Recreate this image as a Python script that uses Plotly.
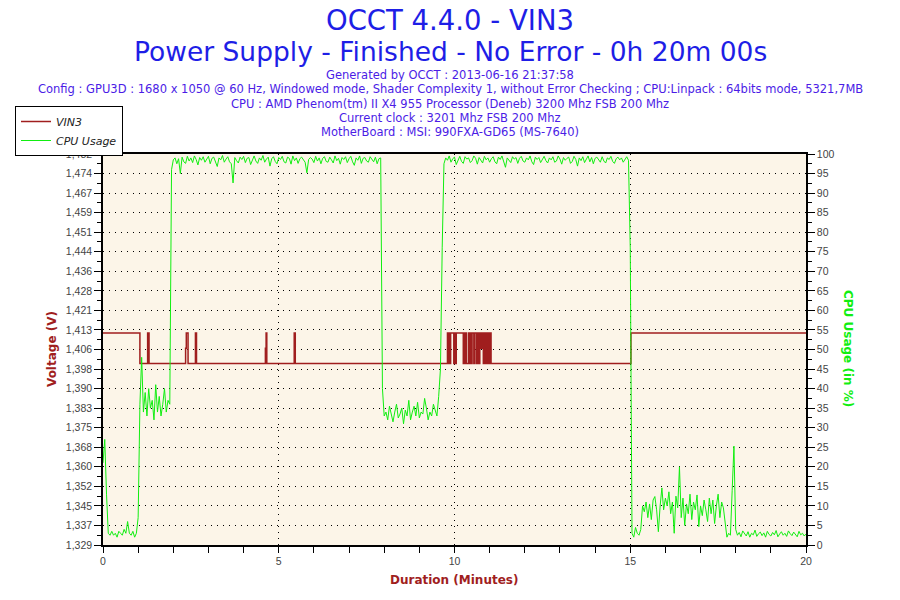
import numpy as np
import plotly.graph_objects as go

# canvas and plot area (pixels)
W, H = 900, 600
L, R, T, B = 103, 806, 154, 545

# ---------------- data ----------------
SAMPLE_STEP = 0.05  # minutes between CPU samples

# CPU usage (%), segments with their start time (minutes)
cpu_idle_a = [21, 27, 13, 3, 2.5, 3.5, 2.5, 3, 2, 3.5, 3, 2.5, 4, 3, 6, 3, 2.5, 3.5, 2, 3, 7]
cpu_half_a = [36, 48, 34, 39, 33, 40, 35, 37, 32, 41, 34, 38, 33, 36, 40, 34, 37, 36]
cpu_full_a = [
    96, 98.5, 99, 97.5, 98.8, 95, 99.2, 98, 97.6, 99.4,
    98.2, 99, 97.8, 99.5, 98.6, 97.2, 99.1, 98.4, 99.3, 97.9,
    98.8, 99.4, 97.5, 98.9, 99.2, 98.1, 96.8, 99, 98.5, 99.6,
    97.9, 98.7, 99.3, 98, 97.5, 92.6, 99.1, 98.3, 97.7, 99.2,
    98.6, 99.4, 97.8, 98.9, 99.1, 97.3, 98.5, 99.5, 98.2, 97.6,
    99, 98.4, 99.6, 97.9, 98.7, 99.2, 96.9, 98.8, 99.3, 98.1,
    97.5, 99.1, 98.6, 99.4, 98, 97.7, 99.2, 98.9, 97.4, 99.5,
    98.3, 99, 97.6, 98.8, 99.2, 98.4, 97.9, 95.2, 98.6, 99.1,
    98.7, 97.8, 99.4, 98.2, 99, 97.5, 98.9, 99.3, 98.1, 97.9,
    99.2, 98.5, 97.7, 99.5, 98.3, 98.9, 97.4, 99.1, 98.6, 99.3,
    97.8, 98.8, 99.4, 98, 97.1, 99, 98.4, 99.5, 97.6, 98.9,
    99.1, 98.2, 97.9, 99.3, 98.7, 98, 99.2, 97.5, 98.8, 99,
]
cpu_half_b = [
    40, 33,
    34, 32, 35.5, 33, 31.5, 34, 36, 32.5, 33.5, 35, 31, 34.5, 33, 37, 32,
    34, 35.5, 33, 36.5, 32.5, 34, 33.5, 37.5, 35, 32, 34, 33, 36, 34.5, 33,
    38, 45, 76,
]
cpu_full_b = [
    97.5, 99, 98.4, 99.5, 97.9, 98.8, 99.2, 97.3, 98.6, 99.4,
    98.1, 97.6, 99.3, 98.7, 99, 97.8, 98.3, 99.5, 98.9, 97.4,
    99.1, 98.2, 97.7, 99.4, 98.5, 99, 97.9, 98.8, 99.3, 98,
    97.5, 99.2, 98.6, 99.5, 98.1, 96.6, 99, 98.4, 97.8, 99.3,
    98.7, 99.1, 97.6, 98.9, 99.4, 98.2, 97.9, 99, 98.5, 99.5,
    98, 97.3, 99.2, 98.6, 99.1, 97.8, 98.8, 99.4, 98.3, 97.7,
    99, 98.5, 99.3, 97.9, 98.2, 99.5, 98.7, 97.4, 99.1, 98.4,
    98.9, 99.2, 97.6, 98.1, 99.4, 98.6, 96.9, 99, 98.3, 99.3,
    97.8, 98.7, 99.5, 98, 99.1, 97.5, 98.9, 99.2, 98.4, 97.9,
    99.3, 98.2, 97.7, 99, 98.6, 99.4, 98.1, 97.6, 98.8, 99.2,
    98.5, 99, 97.9, 98.7, 99.3, 98.4,
]
cpu_light = [
    76, 3, 2, 4.5, 3, 2.5, 4,
    10, 8.5, 11, 7, 10.5, 6.5, 11.5, 12.4,
    9, 3.4, 10, 14.6, 9, 12, 10,
    13.6, 8, 11, 3, 12.5, 9.5, 20, 7,
    12, 5, 10.5, 8, 13, 6.5, 11, 9, 12.8, 4.7, 10, 7.5, 11.5, 9, 6, 12,
    8, 11.5, 5.5, 10, 13, 7, 11, 9.5, 6,
]
cpu_idle_b = [
    2, 3, 2.5, 14, 25.3, 4,
    2.5, 3.2, 2.1, 3.6, 2.8, 2.3, 3.4, 2, 3, 2.6, 3.8, 2.2, 2.9, 3.3, 2.4,
    3.1, 2, 3.5, 2.7, 2.3, 3.2, 2.6, 3.7, 2.1, 2.8, 3.4, 2.5, 3, 2.2, 3.6,
    2.9, 2.4, 3.3, 2.7, 2.1, 3.5, 2.6, 3, 2.3, 2.8,
]
cpu_segments = [
    (0.00, cpu_idle_a),
    (1.05, cpu_half_a),
    (1.95, cpu_full_a),
    (7.95, cpu_half_b),
    (9.70, cpu_full_b),
    (15.00, cpu_light),
    (17.75, cpu_idle_b),
]

# VIN3 (V), change points of the step line
vin_time = [0.00, 1.05, 1.27, 1.29, 1.30, 1.31, 2.35, 2.37, 2.42, 2.63, 2.66,
            4.62, 4.64, 4.66, 5.44, 5.47,
            9.80, 9.84, 9.85, 9.88, 9.89, 9.98, 10.00, 10.02, 10.05, 10.25,
            10.28, 10.29, 10.33, 10.34, 10.40, 10.41, 10.45, 10.47, 10.50,
            10.55, 10.57, 10.62, 10.64, 10.66, 10.69, 10.70, 10.72, 10.76,
            10.78, 10.82, 10.84, 10.88, 10.90, 10.93, 10.95, 10.98, 11.00,
            11.04, 15.02, 20.00]
vin_value = [1.412, 1.400, 1.412, 1.400, 1.412, 1.400, 1.406, 1.412, 1.400, 1.412, 1.400,
             1.406, 1.412, 1.400, 1.412, 1.400,
             1.412, 1.400, 1.412, 1.400, 1.412, 1.400, 1.412, 1.400, 1.412, 1.400,
             1.412, 1.400, 1.412, 1.400, 1.412, 1.400, 1.412, 1.400, 1.412,
             1.400, 1.412, 1.400, 1.412, 1.400, 1.412, 1.400, 1.412, 1.406,
             1.412, 1.400, 1.412, 1.400, 1.412, 1.400, 1.412, 1.400, 1.412,
             1.400, 1.412, 1.412]

# axis ticks
volt_ticktext = ["1,329", "1,337", "1,345", "1,352", "1,360", "1,368", "1,375",
                 "1,383", "1,390", "1,398", "1,406", "1,413", "1,421", "1,428",
                 "1,436", "1,444", "1,451", "1,459", "1,467", "1,474", "1,482"]
volt_min, volt_max = 1.329, 1.482

title_lines = ["OCCT 4.4.0 - VIN3",
               "Power Supply - Finished - No Error - 0h 20m 00s"]
info_lines = [
    "Generated by OCCT : 2013-06-16 21:37:58",
    "Config : GPU3D : 1680 x 1050 @ 60 Hz, Windowed mode, Shader Complexity 1, "
    "without Error Checking ; CPU:Linpack : 64bits mode, 5321,7MB",
    "CPU : AMD Phenom(tm) II X4 955 Processor (Deneb) 3200 Mhz FSB 200 Mhz",
    "Current clock : 3201 Mhz FSB 200 Mhz",
    "MotherBoard : MSI: 990FXA-GD65 (MS-7640)",
]

# ---------------- build ----------------
cpu_t, cpu_v = [], []
for start, vals in cpu_segments:
    cpu_t.extend(start + np.arange(len(vals)) * SAMPLE_STEP)
    cpu_v.extend(vals)

volt_ticks = np.linspace(volt_min, volt_max, len(volt_ticktext))


def px(x):
    return (x - L) / (R - L)


def py(y):
    return (B - y) / (B - T)


def label(text, x, y, size, color, angle=0):
    return dict(text=text, x=px(x), y=py(y), xref="paper", yref="paper",
                showarrow=False, xanchor="center", yanchor="middle", textangle=angle,
                font=dict(family="DejaVu Sans", size=size, color=color))


RED = "#A01E1E"
GREEN = "#11EE11"
TICK_FONT = dict(family="Liberation Sans", size=10.5, color="#444444")

fig = go.Figure()
fig.add_trace(go.Scatter(x=vin_time, y=vin_value, mode="lines", name="VIN3",
                         line=dict(color=RED, width=1.5, shape="hv")))
fig.add_trace(go.Scatter(x=cpu_t, y=cpu_v, mode="lines", name="CPU Usage",
                         yaxis="y2", line=dict(color=GREEN, width=1)))

annotations = []
for i, (txt, size) in enumerate(zip(title_lines, [27.5, 26.5])):
    annotations.append(label(txt, 450, 20 + 31 * i, size, "#1E1EE6"))
for i, txt in enumerate(info_lines):
    annotations.append(label(txt, 450, 75 + 14.3 * i, 11.5, "#4B1CE6"))
annotations.append(label("<b>Voltage (V)</b>", 52, 349, 12, RED, -90))
annotations.append(label("<b>CPU Usage (in %)</b>", 848, 349, 12, GREEN, 90))
annotations.append(label("<b>Duration (Minutes)</b>", 454, 580, 12, RED))

fig.update_layout(
    width=W, height=H,
    margin=dict(l=L, r=W - R, t=T, b=H - B, pad=0),
    paper_bgcolor="white",
    plot_bgcolor="#FCF5E8",
    showlegend=True,
    legend=dict(x=px(15), y=py(106), xanchor="left", yanchor="top",
                bgcolor="white", bordercolor="black", borderwidth=1,
                font=dict(family="DejaVu Sans", size=11, color="#222222", style="italic"),
                tracegroupgap=0, itemwidth=30),
    xaxis=dict(range=[0, 20], tickvals=[0, 5, 10, 15, 20], ticks="outside", ticklen=6,
               tickcolor="black", showline=True, linecolor="black", linewidth=1.5, mirror=True,
               showgrid=True, gridcolor="black", griddash="1px,5px", gridwidth=1,
               zeroline=False, tickfont=TICK_FONT,
               minor=dict(dtick=1, ticks="outside", ticklen=6, tickcolor="black", showgrid=False)),
    yaxis=dict(range=[volt_min, volt_max], tickvals=volt_ticks, ticktext=volt_ticktext,
               ticks="outside", ticklen=7, tickcolor="black", showline=True, linecolor="black",
               linewidth=1.5, showgrid=True, gridcolor="black", griddash="1px,5px", gridwidth=1,
               zeroline=False, tickfont=TICK_FONT,
               minor=dict(tickvals=list((volt_ticks[:-1] + volt_ticks[1:]) / 2), ticks="outside",
                          ticklen=4, tickcolor="black", showgrid=False)),
    yaxis2=dict(range=[0, 100], overlaying="y", side="right", tickvals=list(range(0, 101, 5)),
                ticks="outside", ticklen=7, tickcolor="black", showline=True, linecolor="black",
                linewidth=1.5, showgrid=False, zeroline=False, tickfont=TICK_FONT,
                minor=dict(dtick=2.5, ticks="outside", ticklen=4, tickcolor="black")),
    annotations=annotations,
)

# the page's default body margin would shift the whole figure
fig.write_html("out.html", config={"displayModeBar": False},
               post_script="document.body.style.margin = '0px';")
